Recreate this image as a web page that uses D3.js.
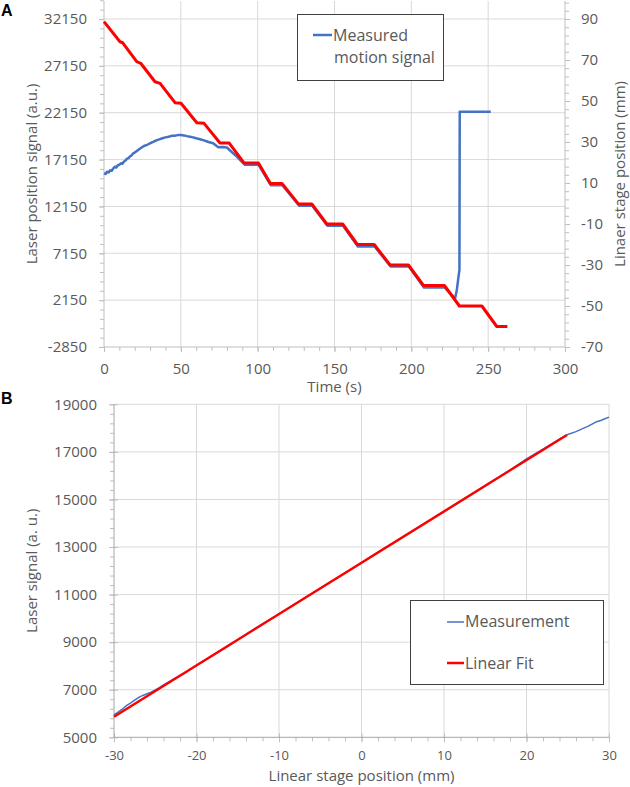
<!DOCTYPE html>
<html>
<head>
<meta charset="utf-8">
<script src="https://cdn.jsdelivr.net/npm/d3@7"></script>
<style>
  body { margin: 0; background: #fff; }
  svg { display: block; font-family: "Open Sans", sans-serif; }
</style>
</head>
<body>
<svg id="chart" width="630" height="787"></svg>
<script>
// --- panel A: stage position (red, right axis) ---
const stageTime = [0, 10.4, 12.2, 21.3, 23.9, 33.2, 36.5, 46.2, 50.1, 60.4, 65.1, 75.5, 81.5,
  91.1, 100.5, 108.3, 115.8, 126.5, 135.2, 145, 155.3, 164.9, 175.8, 186.2, 198.1,
  207.9, 221.5, 231.3, 245.9, 255.6, 262.5];
const stagePos = [88.7, 78.9, 78.4, 69.2, 68.4, 59.4, 58.6, 49.2, 48.9, 39.4, 39.1, 29.5, 29.5,
  19.8, 19.8, 9.8, 9.8, -0.2, -0.2, -10, -10, -20, -20, -30, -30,
  -40, -40, -50, -50, -60, -60];

// --- panel A: measured motion signal (blue, left axis) ---
const sigTime = [0, 1, 2, 3, 4, 5, 6, 7, 8, 9, 10, 11, 12, 13, 14, 15, 16, 17, 18, 19, 20,
  22, 24, 26, 28, 30, 32, 34, 36, 38, 40, 42, 44, 46, 48, 50, 52, 54, 56, 58, 60, 62.5,
  65, 68, 71, 74.4, 77, 79.9, 85.3, 91.5, 100.5, 108.6, 116.2, 127, 135.5, 145.4, 155.6,
  165.2, 176.1, 186.5, 198.4, 208.2, 221.6, 228.5, 229.6, 230.7, 231.3, 231.5, 251.7];
const sigValue = [15690, 15620, 15850, 15780, 16000, 15950, 16200, 16390, 16300, 16550, 16600,
  16750, 16700, 16950, 17050, 17250, 17300, 17500, 17600, 17820, 17900,
  18150, 18380, 18600, 18720, 18890, 19030, 19200, 19310, 19420, 19520, 19580, 19680, 19700,
  19760, 19770, 19730, 19650, 19590, 19520, 19420, 19313,
  19200, 19020, 18887, 18460, 18480, 18440, 17640, 16600, 16600, 14400, 14400, 12220, 12220,
  10080, 10080, 7880, 7880, 5740, 5740, 3500, 3500, 2350, 3230, 4650, 5370, 22260, 22260];

const leftTicks = [-2850, 2150, 7150, 12150, 17150, 22150, 27150, 32150];
const rightTicks = [-70, -50, -30, -10, 10, 30, 50, 70, 90];
const timeTicks = [0, 50, 100, 150, 200, 250, 300];

// --- panel B: calibration ---
const measPos = [-30, -29.5, -29, -28.5, -28, -27.5, -27, -26.5, -26, -25.5, -25, -24.5, -24,
  -23, -22, -21.5, -21, -20, -18, -16, -14, -12, -10, -8, -6, -4, -2, 0, 2, 4, 6, 8, 10,
  12, 14, 16, 18, 20, 22, 24, 25, 26, 27, 27.5, 28, 28.5, 29, 29.5, 30];
const measSignal = [5940, 6060, 6180, 6330, 6440, 6560, 6680, 6760, 6830, 6900, 6990, 7090, 7200,
  7400, 7600, 7680, 7800, 8020, 8450, 8870, 9330, 9770, 10190, 10620, 11050, 11480, 11900,
  12330, 12780, 13210, 13640, 14060, 14490, 14930, 15360, 15800, 16230, 16700, 17110, 17540,
  17730, 17850, 18010, 18080, 18180, 18270, 18320, 18390, 18460];
const fitPos = [-30, 24.9];
const fitSignal = [5866, 17710];

const posTicks = [-30, -20, -10, 0, 10, 20, 30];
const signalTicks = [5000, 7000, 9000, 11000, 13000, 15000, 17000, 19000];

const axisColor = "#bfbfbf";
const gridColor = "#d9d9d9";
const textColor = "#595959";
const blue = "#4472c4";
const red = "#ff0000";
const plain = d => String(d); // keep hyphen minus like the original

const svg = d3.select("#chart");

function styleAxis(sel, fontSize) {
  sel.select(".domain").remove();
  sel.selectAll(".tick line").attr("stroke", axisColor);
  sel.selectAll("text")
    .attr("fill", textColor)
    .style("font-size", fontSize + "px")
    .style("font-family", "'Open Sans', sans-serif");
}

// ================= Panel A =================
const A = { left: 104, right: 565, top: 1, bottom: 347 };

const xA = d3.scaleLinear().domain([0, 300]).range([A.left, A.right]);
const yL = d3.scaleLinear().domain([-2850, 32150]).range([A.bottom, 19]);
const yR = d3.scaleLinear().domain([-70, 90]).range([A.bottom, 19]);
yL.domain([-2850, yL.invert(A.top)]).range([A.bottom, A.top]);
yR.domain([-70, yR.invert(A.top)]).range([A.bottom, A.top]);

const gA = svg.append("g");

// grid
gA.selectAll("line.hgrid")
  .data(leftTicks.slice(1))
  .enter().append("line")
  .attr("x1", A.left).attr("x2", A.right)
  .attr("y1", d => yL(d)).attr("y2", d => yL(d))
  .attr("stroke", gridColor);
gA.selectAll("line.vgrid")
  .data(timeTicks.slice(1, -1))
  .enter().append("line")
  .attr("x1", d => xA(d)).attr("x2", d => xA(d))
  .attr("y1", A.top).attr("y2", A.bottom)
  .attr("stroke", gridColor);

// minor ticks
gA.append("g").attr("transform", `translate(${A.left},0)`)
  .call(d3.axisLeft(yL).tickValues(d3.range(-2850, 34200, 1000)).tickSize(4).tickFormat(""))
  .call(s => styleAxis(s, 15));
gA.append("g").attr("transform", `translate(${A.right},0)`)
  .call(d3.axisRight(yR).tickValues(d3.range(-70, 100, 4)).tickSize(4).tickFormat(""))
  .call(s => styleAxis(s, 15));
gA.append("g").attr("transform", `translate(0,${A.bottom})`)
  .call(d3.axisBottom(xA).tickValues(d3.range(0, 301, 10)).tickSize(4).tickFormat(""))
  .call(s => styleAxis(s, 15));

// major ticks + labels
gA.append("g").attr("transform", `translate(${A.left},0)`)
  .call(d3.axisLeft(yL).tickValues(leftTicks).tickSize(5).tickPadding(12).tickFormat(plain))
  .call(s => styleAxis(s, 15));
gA.append("g").attr("transform", `translate(${A.right},0)`)
  .call(d3.axisRight(yR).tickValues(rightTicks).tickSize(5).tickPadding(11).tickFormat(plain))
  .call(s => styleAxis(s, 15));
gA.append("g").attr("transform", `translate(0,${A.bottom})`)
  .call(d3.axisBottom(xA).tickValues(timeTicks).tickSize(5).tickPadding(11).tickFormat(plain))
  .call(s => styleAxis(s, 15));

// axis lines
gA.append("line").attr("x1", A.left).attr("x2", A.left).attr("y1", A.top).attr("y2", A.bottom).attr("stroke", axisColor);
gA.append("line").attr("x1", A.right).attr("x2", A.right).attr("y1", A.top).attr("y2", A.bottom).attr("stroke", axisColor);
gA.append("line").attr("x1", A.left).attr("x2", A.right).attr("y1", A.bottom).attr("y2", A.bottom).attr("stroke", axisColor);

// series
const blueLineA = d3.line().x(d => xA(d[0])).y(d => yL(d[1]));
gA.append("path")
  .datum(d3.zip(sigTime, sigValue))
  .attr("fill", "none").attr("stroke", blue).attr("stroke-width", 2.5)
  .attr("stroke-linejoin", "round")
  .attr("d", blueLineA);

const redLineA = d3.line().x(d => xA(d[0])).y(d => yR(d[1]));
gA.append("path")
  .datum(d3.zip(stageTime, stagePos))
  .attr("fill", "none").attr("stroke", red).attr("stroke-width", 3)
  .attr("stroke-linejoin", "round")
  .attr("d", redLineA);

// axis titles
gA.append("text")
  .attr("transform", `translate(37,${(A.top + A.bottom) / 2}) rotate(-90)`)
  .attr("text-anchor", "middle").attr("fill", textColor).style("font-size", "15px")
  .text("Laser position signal (a.u.)");
gA.append("text")
  .attr("transform", `translate(625,${(A.top + A.bottom) / 2}) rotate(-90)`)
  .attr("text-anchor", "middle").attr("fill", textColor).style("font-size", "15px")
  .text("Linaer stage position (mm)");
gA.append("text")
  .attr("x", (A.left + A.right) / 2).attr("y", 392)
  .attr("text-anchor", "middle").attr("fill", textColor).style("font-size", "15px")
  .text("Time (s)");

// legend
gA.append("rect")
  .attr("x", 297.5).attr("y", 14.5).attr("width", 146).attr("height", 66)
  .attr("fill", "#fff").attr("stroke", "#404040");
gA.append("line").attr("x1", 313).attr("x2", 332).attr("y1", 35).attr("y2", 35)
  .attr("stroke", blue).attr("stroke-width", 2.5);
gA.append("text").attr("x", 333).attr("y", 41).attr("fill", textColor).style("font-size", "16px").text("Measured");
gA.append("text").attr("x", 334).attr("y", 63).attr("fill", textColor).style("font-size", "16px").text("motion signal");

svg.append("text").attr("x", 1).attr("y", 16)
  .style("font-family", "'Liberation Sans', Arial, sans-serif")
  .style("font-weight", "bold").style("font-size", "16px").text("A");

// ================= Panel B =================
const B = { left: 114, right: 609, top: 404.3, bottom: 737.3 };

const xB = d3.scaleLinear().domain([-30, 30]).range([B.left, B.right]);
const yB = d3.scaleLinear().domain([5000, 19000]).range([B.bottom, B.top]);

const gB = svg.append("g");

gB.selectAll("line.hgrid")
  .data(signalTicks.slice(1))
  .enter().append("line")
  .attr("x1", B.left).attr("x2", B.right)
  .attr("y1", d => yB(d)).attr("y2", d => yB(d))
  .attr("stroke", gridColor);
gB.selectAll("line.vgrid")
  .data(posTicks.slice(1))
  .enter().append("line")
  .attr("x1", d => xB(d)).attr("x2", d => xB(d))
  .attr("y1", B.top).attr("y2", B.bottom)
  .attr("stroke", gridColor);

gB.append("g").attr("transform", `translate(${B.left},0)`)
  .call(d3.axisLeft(yB).tickValues(d3.range(5000, 19001, 400)).tickSize(4).tickFormat(""))
  .call(s => styleAxis(s, 15));
gB.append("g").attr("transform", `translate(0,${B.bottom})`)
  .call(d3.axisBottom(xB).tickValues(d3.range(-30, 31, 2)).tickSize(4).tickFormat(""))
  .call(s => styleAxis(s, 13));

const yAxisB = gB.append("g").attr("transform", `translate(${B.left},0)`)
  .call(d3.axisLeft(yB).tickValues(signalTicks).tickSize(5).tickPadding(12).tickFormat(plain))
  .call(s => styleAxis(s, 15));
yAxisB.selectAll(".tick line").attr("x2", -5).attr("x1", 4);

const xAxisB = gB.append("g").attr("transform", `translate(0,${B.bottom})`)
  .call(d3.axisBottom(xB).tickValues(posTicks).tickSize(5).tickPadding(8).tickFormat(plain))
  .call(s => styleAxis(s, 13));
xAxisB.selectAll(".tick line").attr("y1", -4).attr("y2", 5);

gB.append("line").attr("x1", B.left).attr("x2", B.left).attr("y1", B.top).attr("y2", B.bottom).attr("stroke", "#a6a6a6");
gB.append("line").attr("x1", B.left).attr("x2", B.right).attr("y1", B.bottom).attr("y2", B.bottom).attr("stroke", "#a6a6a6");

const lineB = d3.line().x(d => xB(d[0])).y(d => yB(d[1]));
gB.append("path")
  .datum(d3.zip(measPos, measSignal))
  .attr("fill", "none").attr("stroke", blue).attr("stroke-width", 1.5)
  .attr("d", lineB);
gB.append("path")
  .datum(d3.zip(fitPos, fitSignal))
  .attr("fill", "none").attr("stroke", red).attr("stroke-width", 2.5)
  .attr("d", lineB);

gB.append("text")
  .attr("transform", `translate(37,${(B.top + B.bottom) / 2}) rotate(-90)`)
  .attr("text-anchor", "middle").attr("fill", textColor).style("font-size", "15px")
  .text("Laser signal (a. u.)");
gB.append("text")
  .attr("x", (B.left + B.right) / 2).attr("y", 781)
  .attr("text-anchor", "middle").attr("fill", textColor).style("font-size", "15px")
  .text("Linear stage position (mm)");

gB.append("rect")
  .attr("x", 410.5).attr("y", 600.5).attr("width", 193).attr("height", 84)
  .attr("fill", "#fff").attr("stroke", "#404040");
gB.append("line").attr("x1", 447).attr("x2", 464).attr("y1", 622).attr("y2", 622)
  .attr("stroke", blue).attr("stroke-width", 1.5);
gB.append("text").attr("x", 465).attr("y", 627).attr("fill", textColor).style("font-size", "16px").text("Measurement");
gB.append("line").attr("x1", 447).attr("x2", 464).attr("y1", 663).attr("y2", 663)
  .attr("stroke", red).attr("stroke-width", 2.5);
gB.append("text").attr("x", 465).attr("y", 669).attr("fill", textColor).style("font-size", "16px").text("Linear Fit");

svg.append("text").attr("x", 1).attr("y", 404)
  .style("font-family", "'Liberation Sans', Arial, sans-serif")
  .style("font-weight", "bold").style("font-size", "16px").text("B");
</script>
</body>
</html>
